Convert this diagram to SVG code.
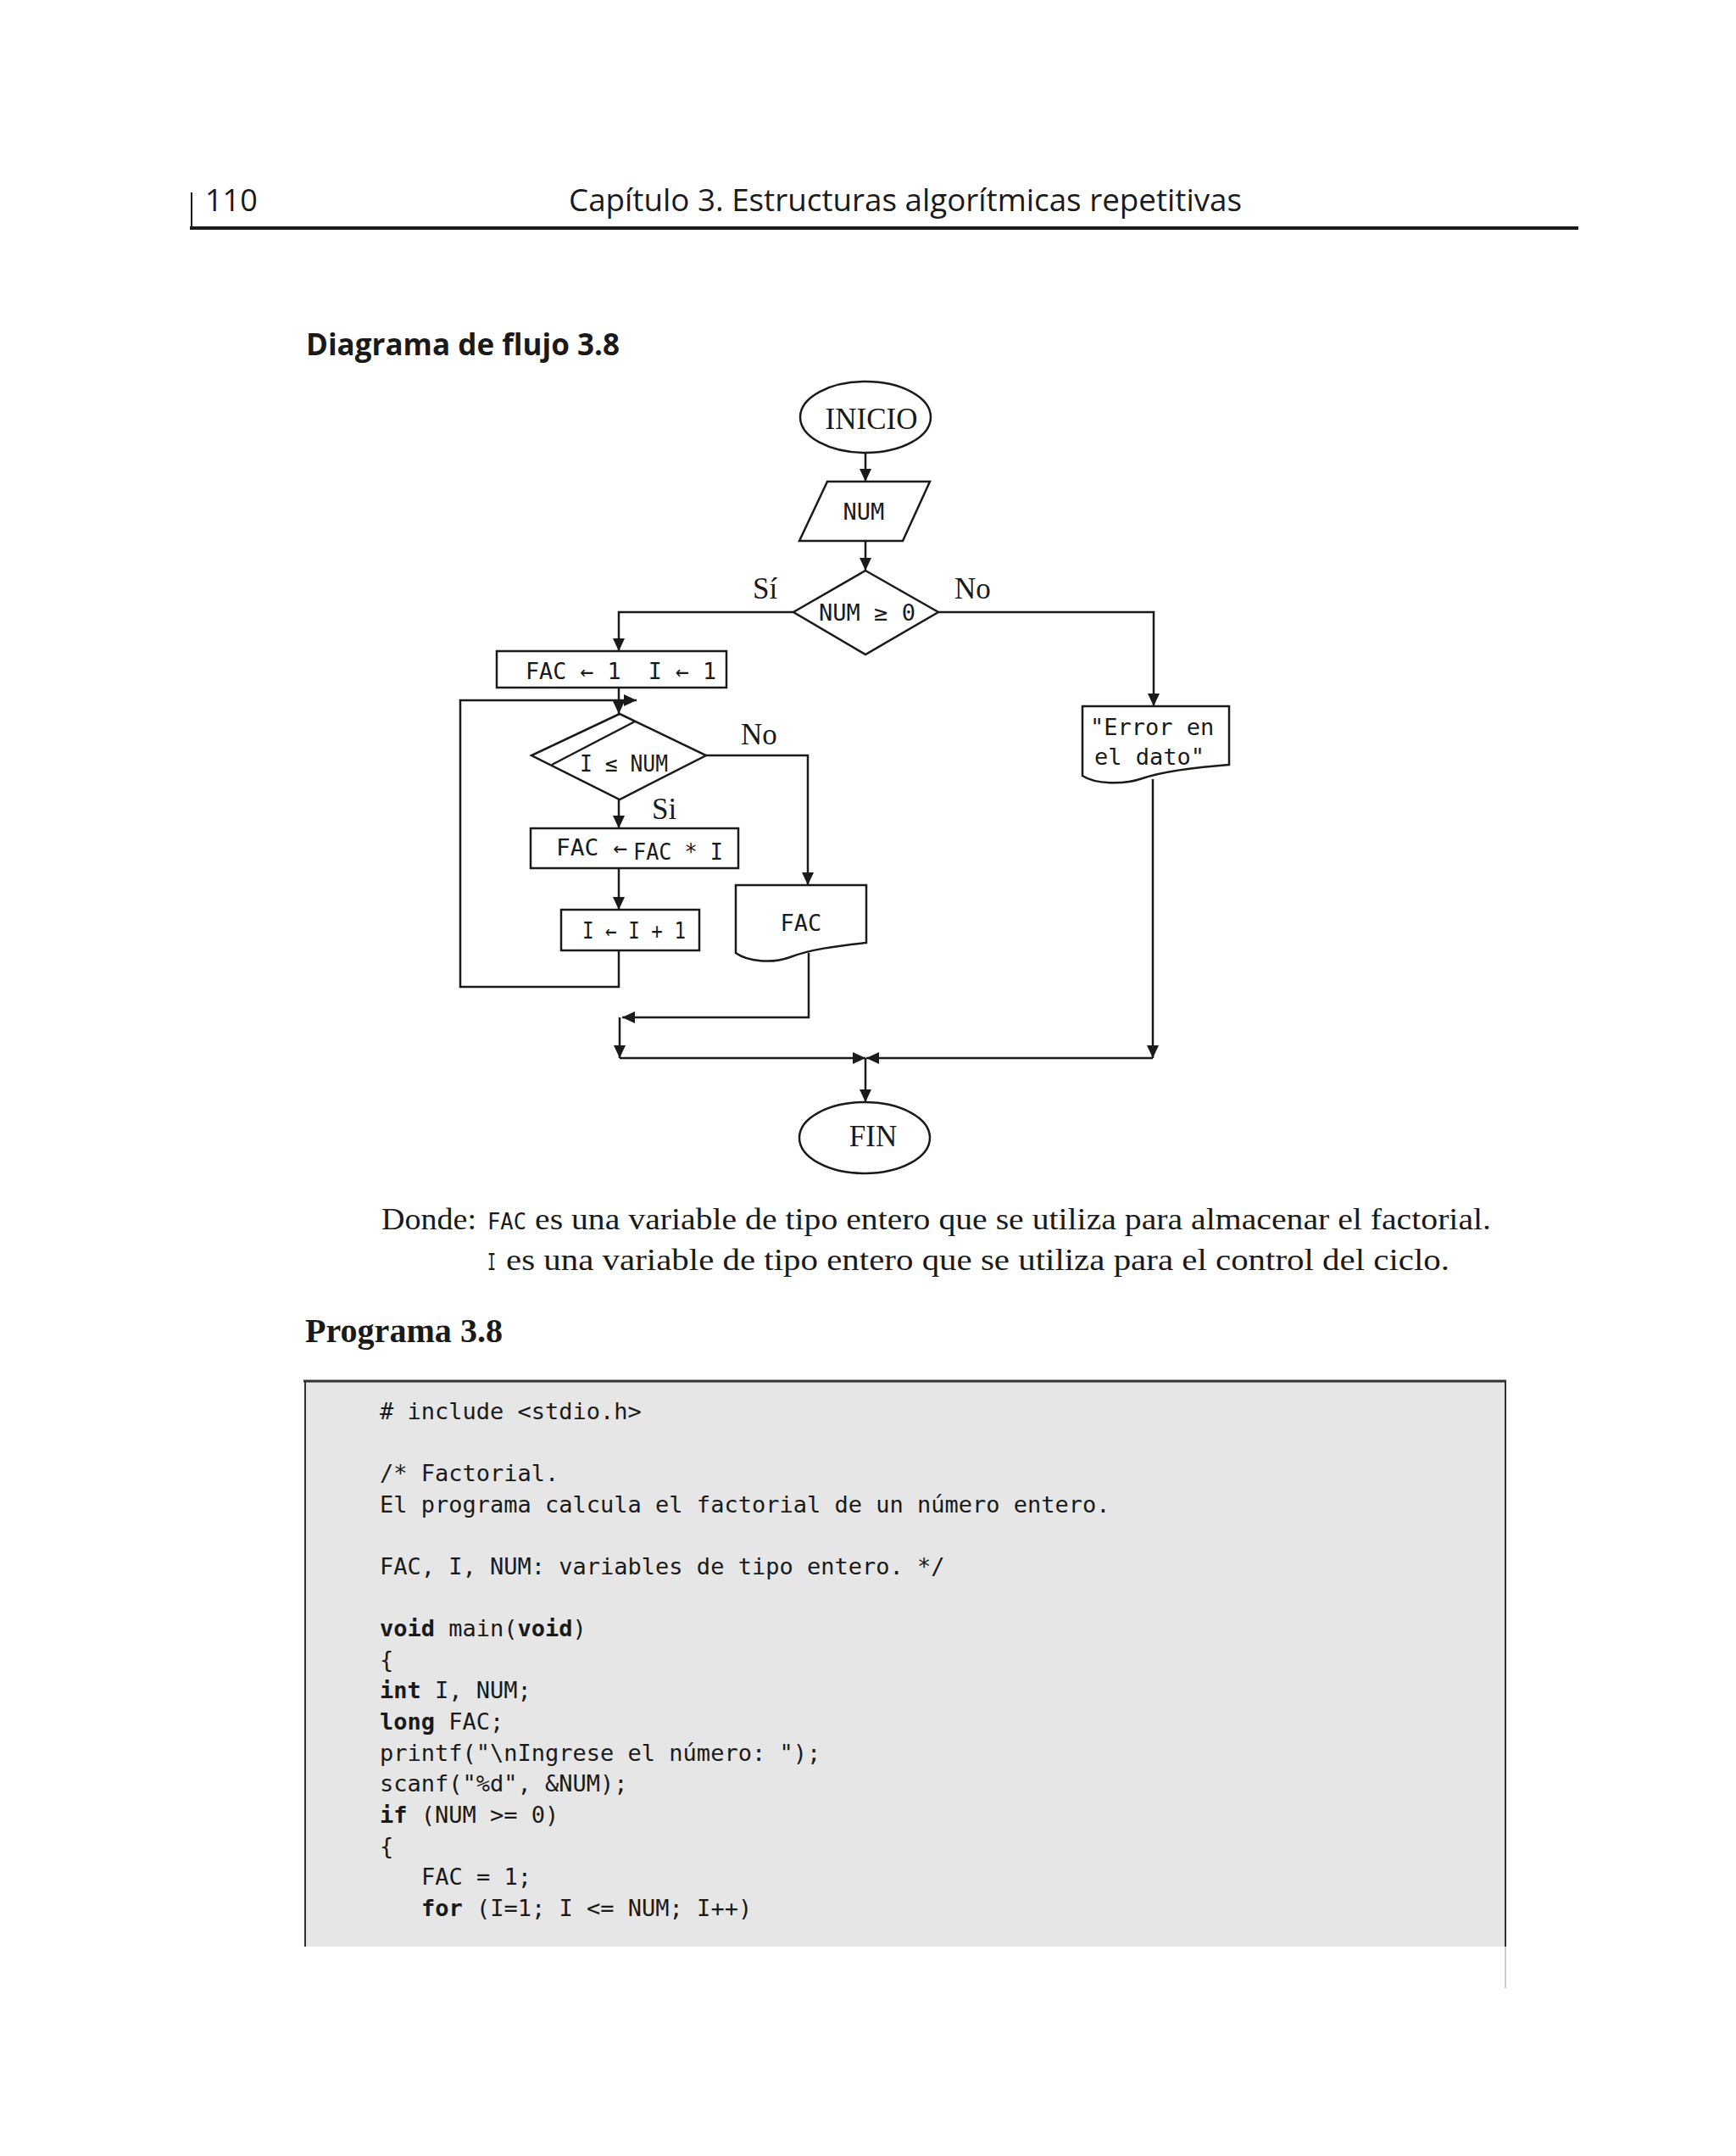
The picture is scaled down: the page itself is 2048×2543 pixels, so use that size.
<svg xmlns="http://www.w3.org/2000/svg" width="2048" height="2543" viewBox="0 0 2048 2543">
<defs>
<marker id="ah" markerUnits="userSpaceOnUse" markerWidth="16" markerHeight="16" refX="15" refY="7" orient="auto">
<path d="M0,0 L15,7 L0,14 Z" fill="#1a1a1a"/>
</marker>
<style>
.ln{fill:none;stroke:#1a1a1a;stroke-width:2.5}
.sh{fill:#fff;stroke:#1a1a1a;stroke-width:2.5}
.mono{font-family:"DejaVu Sans Mono","Liberation Mono",monospace;font-size:27px;fill:#1a1a1a}
.ser{font-family:"Liberation Serif","Times New Roman",serif;font-size:35px;fill:#1a1a1a}
.code{font-family:"DejaVu Sans Mono","Liberation Mono",monospace;font-size:27px;fill:#1a1a1a}
.kw{font-weight:bold}
.hd{font-family:"Open Sans","Noto Sans","Liberation Sans",sans-serif;fill:#1a1a1a}
</style>
</defs>
<rect width="2048" height="2543" fill="#fff"/>

<!-- page header -->
<g id="header">
<line x1="226" y1="227" x2="226" y2="270" stroke="#1a1a1a" stroke-width="2"/>
<line x1="224" y1="269" x2="1862" y2="269" stroke="#1a1a1a" stroke-width="4"/>
<text class="hd" x="242" y="249" font-size="36">110</text>
<text class="hd" x="671" y="249" font-size="36" textLength="794" lengthAdjust="spacingAndGlyphs">Capítulo 3. Estructuras algorítmicas repetitivas</text>
<text class="hd" x="361" y="419" font-size="36" font-weight="bold" textLength="370" lengthAdjust="spacingAndGlyphs">Diagrama de flujo 3.8</text>
</g>

<!-- connectors -->
<g id="connectors">
<line class="ln" x1="1021" y1="534" x2="1021" y2="568" marker-end="url(#ah)"/>
<line class="ln" x1="1021" y1="638" x2="1021" y2="673" marker-end="url(#ah)"/>
<polyline class="ln" points="936,722 730,722 730,768" marker-end="url(#ah)"/>
<polyline class="ln" points="1107,722 1361,722 1361,833" marker-end="url(#ah)"/>
<line class="ln" x1="730" y1="811" x2="730" y2="842" marker-end="url(#ah)"/>
<polyline class="ln" points="730,1121 730,1164 543,1164 543,826 751,826" marker-end="url(#ah)"/>
<polyline class="ln" points="833,891 953,891 953,1044" marker-end="url(#ah)"/>
<line class="ln" x1="730" y1="943" x2="730" y2="977" marker-end="url(#ah)"/>
<line class="ln" x1="730" y1="1024" x2="730" y2="1073" marker-end="url(#ah)"/>
<polyline class="ln" points="954,1124 954,1200 734,1200" marker-end="url(#ah)"/>
<line class="ln" x1="731" y1="1200" x2="731" y2="1248" marker-end="url(#ah)"/>
<line class="ln" x1="731" y1="1248" x2="1021" y2="1248" marker-end="url(#ah)"/>
<line class="ln" x1="1360" y1="919" x2="1360" y2="1248" marker-end="url(#ah)"/>
<line class="ln" x1="1360" y1="1248" x2="1022" y2="1248" marker-end="url(#ah)"/>
<line class="ln" x1="1021" y1="1248" x2="1021" y2="1300" marker-end="url(#ah)"/>
<text class="ser" x="888" y="706">Sí</text>
<text class="ser" x="1126" y="706">No</text>
<text class="ser" x="874" y="878">No</text>
<text class="ser" x="769" y="966">Si</text>
</g>

<!-- nodes -->
<g id="inicio">
<ellipse class="sh" cx="1021" cy="492" rx="77" ry="42"/>
<text class="ser" x="1028" y="506" text-anchor="middle">INICIO</text>
</g>
<g id="leer-num">
<polygon class="sh" points="976,568 1097,568 1065,638 943,638"/>
<text class="mono" x="1019" y="613" text-anchor="middle">NUM</text>
</g>
<g id="dec-num">
<polygon class="sh" points="1021,673 1107,722 1021,772 936,722"/>
<text class="mono" x="1023" y="732" text-anchor="middle">NUM ≥ 0</text>
</g>
<g id="init">
<rect class="sh" x="586" y="768" width="271" height="43"/>
<text class="mono" x="620" y="801" xml:space="preserve" textLength="225" lengthAdjust="spacingAndGlyphs">FAC ← 1  I ← 1</text>
</g>
<g id="dec-loop">
<polygon class="sh" points="731,842 833,891 731,943 627,891"/>
<line class="ln" x1="749" y1="851" x2="651" y2="902"/>
<text class="mono" x="684" y="910" textLength="104" lengthAdjust="spacingAndGlyphs">I ≤ NUM</text>
</g>
<g id="mult">
<rect class="sh" x="626" y="977" width="245" height="47"/>
<text class="mono" x="656" y="1009" textLength="84" lengthAdjust="spacingAndGlyphs">FAC ←</text>
<text class="mono" x="747" y="1014" textLength="106" lengthAdjust="spacingAndGlyphs">FAC * I</text>
</g>
<g id="inc">
<rect class="sh" x="662" y="1073" width="163" height="48"/>
<text class="mono" x="687" y="1107" textLength="122" lengthAdjust="spacingAndGlyphs">I ← I + 1</text>
</g>
<g id="out-fac">
<path class="sh" d="M868,1044 H1022 V1112 C985,1116 955,1120 932,1129 C910,1137 882,1134 868,1124 Z"/>
<text class="mono" x="945" y="1098" text-anchor="middle">FAC</text>
</g>
<g id="out-error">
<path class="sh" d="M1277,833 H1450 V902 C1410,905 1372,910 1348,918 C1325,926 1292,925 1277,915 Z"/>
<text class="mono" x="1286" y="867" font-size="28">"Error en</text>
<text class="mono" x="1291" y="902" font-size="28">el dato"</text>
</g>
<g id="fin">
<ellipse class="sh" cx="1020" cy="1342" rx="77" ry="42"/>
<text class="ser" x="1030" y="1352" text-anchor="middle">FIN</text>
</g>

<!-- explanation -->
<g id="donde">
<text class="ser" x="450" y="1450" font-size="38" textLength="112" lengthAdjust="spacingAndGlyphs">Donde:</text>
<text class="mono" x="575" y="1450" font-size="24" textLength="46" lengthAdjust="spacingAndGlyphs">FAC</text>
<text class="ser" x="631" y="1450" font-size="38" textLength="1128" lengthAdjust="spacingAndGlyphs">es una variable de tipo entero que se utiliza para almacenar el factorial.</text>
<text class="mono" x="575" y="1498" font-size="24" textLength="10" lengthAdjust="spacingAndGlyphs">I</text>
<text class="ser" x="597" y="1498" font-size="38" textLength="1113" lengthAdjust="spacingAndGlyphs">es una variable de tipo entero que se utiliza para el control del ciclo.</text>
</g>

<!-- program -->
<g id="programa">
<text x="360" y="1583" font-family="Liberation Serif, Times New Roman, serif" font-weight="bold" font-size="40" fill="#1a1a1a" textLength="233" lengthAdjust="spacingAndGlyphs">Programa 3.8</text>
<rect x="360" y="1629" width="1416" height="667" fill="#e6e6e6"/>
<line x1="358" y1="1629" x2="1777" y2="1629" stroke="#333" stroke-width="3"/>
<line x1="360" y1="1628" x2="360" y2="2296" stroke="#333" stroke-width="2"/>
<line x1="1776" y1="1628" x2="1776" y2="2296" stroke="#333" stroke-width="2"/>
<line x1="1776" y1="2296" x2="1776" y2="2345" stroke="#ccc" stroke-width="2"/>
<g class="code">
<text x="448" y="1674"># include &lt;stdio.h&gt;</text>
<text x="448" y="1747">/* Factorial.</text>
<text x="448" y="1784">El programa calcula el factorial de un número entero.</text>
<text x="448" y="1857">FAC, I, NUM: variables de tipo entero. */</text>
<text x="448" y="1930"><tspan class="kw">void</tspan> main(<tspan class="kw">void</tspan>)</text>
<text x="448" y="1967">{</text>
<text x="448" y="2003"><tspan class="kw">int</tspan> I, NUM;</text>
<text x="448" y="2040"><tspan class="kw">long</tspan> FAC;</text>
<text x="448" y="2077">printf("\nIngrese el número: ");</text>
<text x="448" y="2113">scanf("%d", &amp;NUM);</text>
<text x="448" y="2150"><tspan class="kw">if</tspan> (NUM &gt;= 0)</text>
<text x="448" y="2187">{</text>
<text x="497" y="2223">FAC = 1;</text>
<text x="497" y="2260"><tspan class="kw">for</tspan> (I=1; I &lt;= NUM; I++)</text>
</g>
</g>
</svg>
